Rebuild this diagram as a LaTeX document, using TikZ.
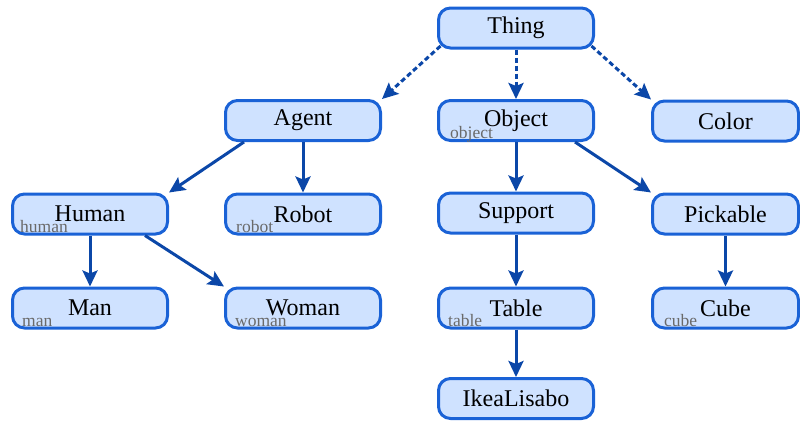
\documentclass[tikz,border=0pt]{standalone}
\usepackage{fontspec}
\setmainfont{Liberation Serif}
\usetikzlibrary{arrows.meta,calc}
\definecolor{boxfill}{HTML}{CFE2FF}
\definecolor{boxline}{HTML}{1A62D6}
\definecolor{arrowcol}{HTML}{0B47A8}
\definecolor{labgray}{HTML}{6A6A6A}
\tikzset{
  concept/.style={draw=boxline, fill=boxfill, line width=3pt, rounded corners=12pt,
    minimum width=155pt, minimum height=40pt, inner sep=0pt,
    font=\fontsize{24}{28}\selectfont},
  narrowconcept/.style={concept, minimum width=146pt},
  tag/.style={anchor=base west, text=labgray, font=\fontsize{17.5}{20}\selectfont, inner sep=0pt},
  link/.style={draw=arrowcol, line width=3pt, -{Stealth[length=16pt,width=15pt,inset=3pt]}},
  sublink/.style={link, dash pattern=on 5pt off 3pt}
}
\begin{document}
\begin{tikzpicture}[x=1pt,y=-1pt]
\useasboundingbox (0,0) rectangle (800,421);
% nodes
\node[concept] (Thing) at (516,28) {Thing};
\node[concept] (Agent) at (303,120.5) {Agent};
\node[concept] (Object) at (516,120.5) {Object};
\node[narrowconcept] (Color) at (725.5,121) {Color};
\node[concept] (Human) at (90,214) {Human};
\node[concept] (Robot) at (303,214) {Robot};
\node[concept] (Support) at (516,213) {Support};
\node[narrowconcept] (Pickable) at (725.5,214) {Pickable};
\node[concept] (Man) at (90,308) {Man};
\node[concept] (Woman) at (303,308) {Woman};
\node[concept] (Table) at (516,308) {Table};
\node[narrowconcept] (Cube) at (725.5,308) {Cube};
\node[concept] (Ikea) at (516,398.5) {IkeaLisabo};
% small tags
\node[tag] (objtag) at ($(Object.south west)+(13,-3.5)$) {object};
\node[tag] (humtag) at ($(Human.south west)+(9,-3.5)$) {human};
\node[tag] (robtag) at ($(Robot.south west)+(12,-3.5)$) {robot};
\node[tag] (mantag) at ($(Man.south west)+(11,-3.5)$) {man};
\node[tag] (womtag) at ($(Woman.south west)+(11,-3.5)$) {woman};
\node[tag] (tabtag) at ($(Table.south west)+(11,-3.5)$) {table};
\node[tag] (cubtag) at ($(Cube.south west)+(13,-3.5)$) {cube};
% connectors
\draw[sublink] ($(Thing.south west)+(3.5,-3.5)$) -- (Agent.north east);
\draw[sublink] (Thing.south) -- (Object.north);
\draw[sublink] ($(Thing.south east)+(-3.5,-3.5)$) -- (Color.north west);
\draw[link] ($(Agent.south west)+(20,0)$) -- (Human.north east);
\draw[link] (Agent.south) -- (Robot.north);
\draw[link] (Object.south) -- (Support.north);
\draw[link] ($(Object.south east)+(-20,0)$) -- (Pickable.north west);
\draw[link] (Human.south) -- (Man.north);
\draw[link] ($(Human.south east)+(-24,0)$) -- (Woman.north west);
\draw[link] (Support.south) -- (Table.north);
\draw[link] (Pickable.south) -- (Cube.north);
\draw[link] (Table.south) -- (Ikea.north);
\end{tikzpicture}
\end{document}
